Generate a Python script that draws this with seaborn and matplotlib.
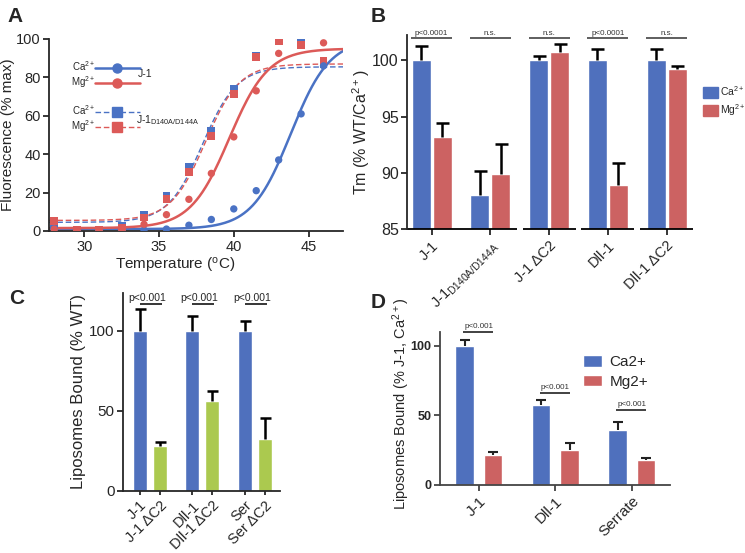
import numpy as np
import pandas as pd
import matplotlib
matplotlib.use("Agg")
import matplotlib.pyplot as plt
from matplotlib.lines import Line2D
import seaborn as sns

# ---- panel A: thermal melt (fluorescence vs temperature) ----
temps = [28, 29.5, 31, 32.5, 34, 35.5, 37, 38.5, 40, 41.5, 43, 44.5, 46]
j1_ca = [1, 0, 0, 0, 0.5, 1, 3, 6, 11.5, 21, 37, 61, 86]
j1_mg = [1, 0.5, 0.5, 1, 3.5, 8.5, 16.5, 30, 49, 73, 92.5, 97, 98]
mut_ca = [3, 0, 0, 2.5, 8.5, 18.5, 33.5, 52, 74, 91, 100, 98, 87]
mut_mg = [5, 0.5, 0.5, 1.5, 7, 16.5, 30.5, 49.5, 71.5, 90.5, 99, 97, 88.5]
# Boltzmann fit parameters: j1_ca, j1_mg, mut_ca, mut_mg
fit_bottom = [1.0, 1.5, 4.5, 5.5]
fit_top = [100.0, 95.0, 85.5, 87.0]
fit_tm = [43.8, 39.7, 37.9, 38.1]
fit_slope = [1.3, 1.3, 1.15, 1.15]

# ---- panel B: Tm (% WT/Ca2+) ----
b_groups = ["J-1", "J-1 mut", "J-1 dC2", "Dll-1", "Dll-1 dC2"]
b_labels = ["J-1", "J-1$_{\\mathregular{D140A/D144A}}$", "J-1 \u0394C2", "Dll-1", "Dll-1 \u0394C2"]
b_ca = [100, 88.1, 100, 100, 100]
b_ca_err = [1.3, 2.1, 0.4, 1.0, 1.0]
b_mg = [93.2, 89.9, 100.7, 88.9, 99.2]
b_mg_err = [1.2, 2.7, 0.7, 2.0, 0.3]
b_sig = ["p<0.0001", "n.s.", "n.s.", "p<0.0001", "n.s."]

# ---- panel C: liposome binding, WT vs dC2 ----
c_groups = ["J-1", "Dll-1", "Ser"]
c_wt = [100, 100, 100]
c_wt_err = [13.6, 9.4, 6.3]
c_dc2 = [28.2, 56.2, 32.4]
c_dc2_err = [2.5, 6.2, 13.3]
c_bar_labels = ["J-1", "J-1 \u0394C2", "Dll-1", "Dll-1 \u0394C2", "Ser", "Ser \u0394C2"]

# ---- panel D: liposome binding, Ca vs Mg ----
d_groups = ["J-1", "Dll-1", "Serrate"]
d_ca = [100, 57.4, 39.5]
d_ca_err = [4.1, 3.6, 5.5]
d_mg = [21.5, 25.1, 17.9]
d_mg_err = [2.4, 5.3, 1.7]
d_sig_y = [109.5, 66, 53.5]

BLUE = "#4f70bd"
RED = "#cc6262"
GREEN = "#abc94f"
LBLUE = "#4a72c4"
LRED = "#dc5a58"


def boltzmann(x, bottom, top, tm, slope):
    return bottom + (top - bottom) / (1 + np.exp((tm - x) / slope))


def bar_centers(container):
    return [p.get_x() + p.get_width() / 2 for p in container]


def up_errors(ax, xs, ys, errs, cap_px=13, lw=1.8, color="black"):
    xs, ys, errs = np.asarray(xs), np.asarray(ys), np.asarray(errs)
    ax.vlines(xs, ys, ys + errs, color=color, lw=lw, zorder=3, clip_on=False)
    ax.plot(xs, ys + errs, ls="none", marker="_", ms=cap_px * 0.72, mew=lw,
            color=color, zorder=3, clip_on=False)


sns.set_style("ticks")
plt.rcParams["font.family"] = ["Liberation Sans", "DejaVu Sans"]
plt.rcParams["mathtext.default"] = "regular"
plt.rcParams["axes.linewidth"] = 1.3
plt.rcParams["xtick.major.width"] = 1.3
plt.rcParams["ytick.major.width"] = 1.3
plt.rcParams["xtick.major.pad"] = 2.5
plt.rcParams["ytick.major.pad"] = 2

fig = plt.figure(figsize=(7.45, 5.53), dpi=100)

# ================= A =================
axA = fig.add_axes([0.0658, 0.5823, 0.3946, 0.3472])
x_fit = np.linspace(27.65, 47.3, 200)
fit_names = ["J-1 Ca", "J-1 Mg", "mut Ca", "mut Mg"]
fit_df = pd.concat([
    pd.DataFrame({"T": x_fit, "F": boltzmann(x_fit, fit_bottom[i], fit_top[i], fit_tm[i], fit_slope[i]),
                  "series": fit_names[i]})
    for i in range(4)
])
pts_df = pd.DataFrame({
    "T": temps * 4,
    "F": j1_ca + j1_mg + mut_ca + mut_mg,
    "series": sum([[n] * len(temps) for n in fit_names], []),
})
pal = {"J-1 Ca": LBLUE, "J-1 Mg": LRED, "mut Ca": LBLUE, "mut Mg": LRED}
sns.lineplot(data=fit_df[fit_df.series.str.startswith("mut")], x="T", y="F", hue="series",
             palette=pal, lw=1.0, dashes=False, legend=False, ax=axA)
for ln in axA.lines:
    ln.set_linestyle((0, (4, 2)))
sns.lineplot(data=fit_df[fit_df.series.str.startswith("J-1")], x="T", y="F", hue="series",
             palette=pal, lw=1.8, legend=False, ax=axA)
sns.scatterplot(data=pts_df[pts_df.series.str.startswith("mut")], x="T", y="F", hue="series",
                palette=pal, marker="s", s=32, edgecolor="none", legend=False, ax=axA, zorder=4)
sns.scatterplot(data=pts_df[pts_df.series.str.startswith("J-1")], x="T", y="F", hue="series",
                palette=pal, marker="o", s=28, edgecolor="none", legend=False, ax=axA, zorder=4)
axA.set_xlim(27.65, 47.3)
axA.set_ylim(0, 100)
axA.set_xticks([30, 35, 40, 45])
axA.set_yticks([0, 20, 40, 60, 80, 100])
axA.tick_params(labelsize=10.5, length=4)
axA.set_xlabel("Temperature ($^{o}$C)", fontsize=11)
axA.set_ylabel("Fluorescence (% max)", fontsize=11)
axA.xaxis.set_label_coords(0.43, -0.13)
axA.yaxis.set_label_coords(-0.117, 0.5)
sns.despine(ax=axA)

h1 = [Line2D([], [], color=LBLUE, marker="o", ms=6.5, lw=1.8),
      Line2D([], [], color=LRED, marker="o", ms=6.5, lw=1.8)]
leg1 = axA.legend(h1, ["Ca$^{2+}$", "Mg$^{2+}$"], markerfirst=False, frameon=False,
                  handlelength=4.6, fontsize=7, numpoints=1, loc="upper left",
                  bbox_to_anchor=(0.05, 0.93), labelspacing=0.12, handletextpad=0.0,
                  borderpad=0.2)
axA.add_artist(leg1)
h2 = [Line2D([], [], color=LBLUE, marker="s", ms=6.5, lw=1.0, ls=(0, (4, 2))),
      Line2D([], [], color=LRED, marker="s", ms=6.5, lw=1.0, ls=(0, (4, 2)))]
axA.legend(h2, ["Ca$^{2+}$", "Mg$^{2+}$"], markerfirst=False, frameon=False,
           handlelength=4.6, fontsize=7, numpoints=1, loc="upper left",
           bbox_to_anchor=(0.05, 0.70), labelspacing=0.12, handletextpad=0.0,
           borderpad=0.2)
axA.text(0.303, 0.82, "J-1", transform=axA.transAxes, fontsize=7.5, va="center")
axA.text(0.296, 0.575, "J-1$_{\\mathregular{D140A/D144A}}$", transform=axA.transAxes,
         fontsize=7.5, va="center")

# ================= B =================
axB = fig.add_axes([0.5463, 0.5850, 0.384, 0.351])
b_df = pd.DataFrame({
    "group": b_groups * 2,
    "value": b_ca + b_mg,
    "ion": ["Ca"] * 5 + ["Mg"] * 5,
})
sns.barplot(data=b_df, x="group", y="value", hue="ion", order=b_groups,
            palette={"Ca": BLUE, "Mg": RED}, width=0.72, gap=0.1, legend=False,
            ax=axB, saturation=1)
for cont, err in zip(axB.containers, [b_ca_err, b_mg_err]):
    up_errors(axB, bar_centers(cont), [p.get_height() for p in cont], err)
axB.set_ylim(85, 102.2)
axB.set_xlim(-0.42, 4.45)
axB.set_yticks([85, 90, 95, 100])
axB.set_xticks(range(len(b_groups)))
axB.set_xticklabels(b_labels, rotation=45, ha="right", rotation_mode="anchor", fontsize=10.5)
axB.tick_params(axis="y", labelsize=11.5, length=4)
axB.tick_params(axis="x", length=4)
axB.set_xlabel("")
axB.set_ylabel("Tm (% WT/Ca$^{2+}$)", fontsize=11.5, labelpad=0)
sns.despine(ax=axB)
axB.spines["bottom"].set_visible(False)
seg_start = [-0.42, 1.55, 2.55, 3.55]
seg_end = [1.45, 2.45, 3.45, 4.45]
axB.hlines([85] * 4, seg_start, seg_end, color="black", lw=1.3, clip_on=False)
for i, s in enumerate(b_sig):
    axB.hlines(101.95, i - 0.35, i + 0.35, color="#333333", lw=1.1, clip_on=False)
    axB.text(i, 102.1, s, ha="center", va="bottom", fontsize=5.8, color="#333333")
handlesB = [plt.Rectangle((0, 0), 1, 1, color=BLUE), plt.Rectangle((0, 0), 1, 1, color=RED)]
axB.legend(handlesB, ["Ca$^{2+}$", "Mg$^{2+}$"], frameon=False, fontsize=7.5,
           loc="upper left", bbox_to_anchor=(1.035, 0.75), borderaxespad=0, borderpad=0,
           handlelength=1.4, handleheight=1.3, handletextpad=0.2, labelspacing=0.4)

# ================= C =================
axC = fig.add_axes([0.1651, 0.1127, 0.2107, 0.357])
c_df = pd.DataFrame({
    "group": c_groups * 2,
    "value": c_wt + c_dc2,
    "kind": ["WT"] * 3 + ["dC2"] * 3,
})
sns.barplot(data=c_df, x="group", y="value", hue="kind", order=c_groups,
            palette={"WT": BLUE, "dC2": GREEN}, width=0.76, gap=0.3, legend=False,
            ax=axC, saturation=1)
c_pos = []
for cont, err in zip(axC.containers, [c_wt_err, c_dc2_err]):
    xs = bar_centers(cont)
    c_pos += xs
    up_errors(axC, xs, [p.get_height() for p in cont], err, cap_px=11)
c_order = np.argsort(c_pos)
c_ticks = [c_pos[k] for k in c_order]
axC.set_xticks(c_ticks)
axC.set_xticklabels(c_bar_labels, rotation=45, ha="right", rotation_mode="anchor", fontsize=10.5)
axC.set_xlim(-0.51, 2.48)
axC.set_ylim(0, 123.6)
axC.set_yticks([0, 50, 100])
axC.tick_params(axis="y", labelsize=11, length=4)
axC.tick_params(axis="x", length=3)
axC.set_xlabel("")
axC.set_ylabel("Liposomes Bound (% WT)", fontsize=12, labelpad=2)
sns.despine(ax=axC)
wt_x = bar_centers(axC.containers[0])
dc_x = bar_centers(axC.containers[1])
for a, b in zip(wt_x, dc_x):
    axC.hlines(116.7, a, b + 0.04, color="black", lw=1.1)
    axC.text((a + b) / 2 - 0.05, 117.3, "p<0.001", ha="center", va="bottom", fontsize=7.5)

# ================= D =================
axD = fig.add_axes([0.5906, 0.123, 0.3087, 0.276])
d_df = pd.DataFrame({
    "group": d_groups * 2,
    "value": d_ca + d_mg,
    "ion": ["Ca2+"] * 3 + ["Mg2+"] * 3,
})
sns.barplot(data=d_df, x="group", y="value", hue="ion", order=d_groups,
            palette={"Ca2+": BLUE, "Mg2+": RED}, width=0.745, gap=0.35,
            ax=axD, saturation=1)
for cont, err in zip(axD.containers, [d_ca_err, d_mg_err]):
    up_errors(axD, bar_centers(cont), [p.get_height() for p in cont], err,
              cap_px=10, lw=1.5, color="#222222")
axD.set_xlim(-0.51, 2.5)
axD.set_ylim(0, 109.6)
axD.set_yticks([0, 50, 100])
axD.set_xticks(range(3))
axD.set_xticklabels(d_groups, rotation=45, ha="right", rotation_mode="anchor", fontsize=11)
for t in axD.get_yticklabels():
    t.set_fontweight("bold")
axD.tick_params(axis="y", labelsize=9, length=4, color="#444444")
axD.tick_params(axis="x", length=4, color="#444444")
axD.set_xlabel("")
axD.set_ylabel("Liposomes Bound (% J-1, Ca$^{2+}$)", fontsize=10.5)
axD.yaxis.set_label_coords(-0.12, 0.53)
sns.despine(ax=axD)
for sp in ["left", "bottom"]:
    axD.spines[sp].set_color("#444444")
ca_x = bar_centers(axD.containers[0])
mg_x = bar_centers(axD.containers[1])
for a, b, y in zip(ca_x, mg_x, d_sig_y):
    axD.hlines(y, a - 0.02, b, color="#333333", lw=1.3, clip_on=False)
    axD.text((a + b) / 2, y + 1.5, "p<0.001", ha="center", va="bottom", fontsize=5.8,
             color="#333333")
handlesD, labelsD = axD.get_legend_handles_labels()
axD.legend(handlesD, labelsD, frameon=False, fontsize=11, loc="upper left",
           bbox_to_anchor=(0.56, 0.94), handlelength=1.25, handleheight=0.75,
           handletextpad=0.5, labelspacing=0.35)

# panel letters
for lab, x, y in [("A", 0.010, 0.988), ("B", 0.498, 0.988), ("C", 0.012, 0.478), ("D", 0.498, 0.47)]:
    fig.text(x, y, lab, fontsize=15, fontweight="bold", va="top", ha="left")

fig.savefig("out.png", dpi=100)
